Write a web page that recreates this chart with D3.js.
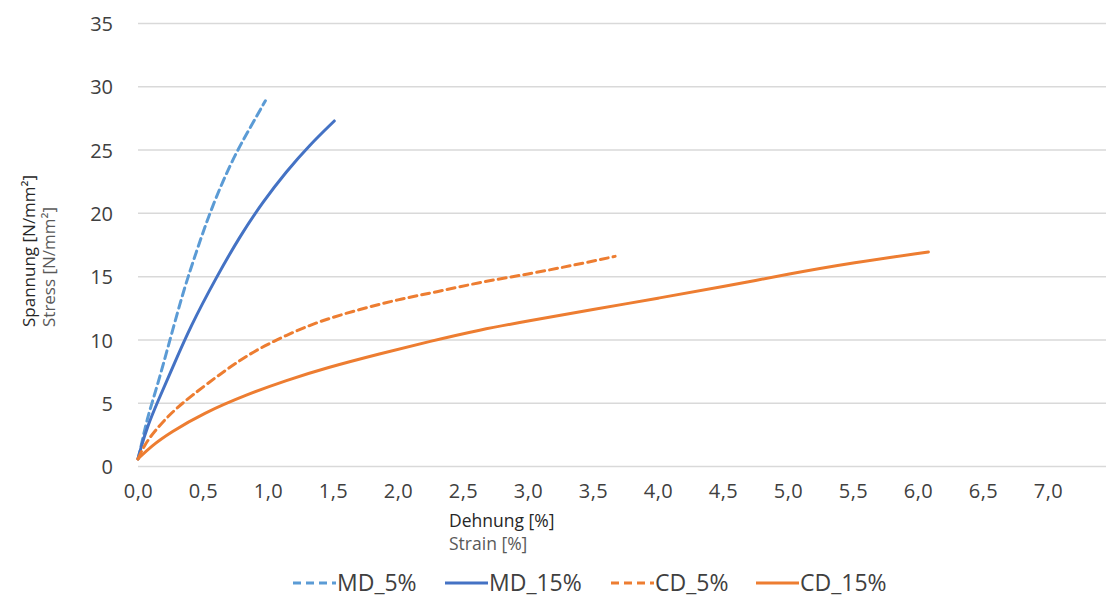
<!DOCTYPE html>
<html><head><meta charset="utf-8">
<script src="https://cdn.jsdelivr.net/npm/d3@7"></script>
<style>
body{margin:0;background:#fff;}
text{font-family:"Open Sans",sans-serif;}
</style></head>
<body><svg id="c" width="1106" height="597"></svg>
<script>
const xTicks = [0,0.5,1,1.5,2,2.5,3,3.5,4,4.5,5,5.5,6,6.5,7];
const yTicks = [0,5,10,15,20,25,30,35];
const seriesNames = ["MD_5%","MD_15%","CD_5%","CD_15%"];
const md5Strain  = [0,0.02,0.067,0.144,0.246,0.35,0.45,0.54,0.65,0.76,0.87,0.98];
const md5Stress  = [0.6,1.4,3.7,6.2,10.0,13.9,17.0,19.7,22.5,24.9,26.9,28.9];
const md15Strain = [0,0.02,0.07,0.15,0.27,0.40,0.605,0.79,0.96,1.14,1.32,1.51];
const md15Stress = [0.6,1.4,3.1,5.1,7.9,11.0,15.0,18.3,20.9,23.3,25.4,27.3];
const cd5Strain  = [0,0.05,0.12,0.25,0.4,0.656,0.887,1.144,1.4,1.7,2.0,2.3,2.65,3.0,3.35,3.67];
const cd5Stress  = [0.6,1.7,2.7,4.2,5.5,7.5,9.1,10.4,11.5,12.4,13.2,13.8,14.6,15.2,15.9,16.6];
const cd15Strain = [0,0.1,0.25,0.5,0.84,1.14,1.45,1.86,2.25,2.63,3.0,3.5,4.0,4.5,5.0,5.5,6.08];
const cd15Stress = [0.6,1.6,2.7,4.2,5.7,6.8,7.8,8.9,9.9,10.8,11.5,12.4,13.3,14.2,15.2,16.1,16.95];

const series = [
  {name:seriesNames[0], xs:md5Strain, ys:md5Stress, color:"#5B9BD5", dash:"8,5"},
  {name:seriesNames[1], xs:md15Strain, ys:md15Stress, color:"#4472C4", dash:null},
  {name:seriesNames[2], xs:cd5Strain, ys:cd5Stress, color:"#ED7D31", dash:"8,5"},
  {name:seriesNames[3], xs:cd15Strain, ys:cd15Stress, color:"#ED7D31", dash:null}
];

const svg = d3.select("#c");
const x = d3.scaleLinear().domain([0,7.5]).range([138,1113]);
const y = d3.scaleLinear().domain([0,35]).range([466.5,23.5]);
const fmt = d => d.toFixed(1).replace(".",",");

// gridlines
svg.append("g").selectAll("line").data(yTicks).join("line")
  .attr("x1",138).attr("x2",1106)
  .attr("y1",d=>y(d)).attr("y2",d=>y(d))
  .attr("stroke","#d9d9d9").attr("stroke-width",1.5);

// y axis labels
const yAxis = svg.append("g").attr("transform","translate(113,0)")
  .call(d3.axisLeft(y).tickValues(yTicks).tickSize(0).tickPadding(0).tickFormat(d=>d));
yAxis.select(".domain").remove();
yAxis.selectAll("text").attr("font-size",20).attr("fill","#404040").attr("font-family","Open Sans").attr("dy","0.36em");

// x axis labels
const xAxis = svg.append("g").attr("transform","translate(0,480)")
  .call(d3.axisBottom(x).tickValues(xTicks).tickSize(0).tickPadding(4).tickFormat(fmt));
xAxis.select(".domain").remove();
xAxis.selectAll("text").attr("font-size",20).attr("fill","#404040").attr("font-family","Open Sans").attr("letter-spacing","0.5px");

// lines
const line = d3.line().curve(d3.curveBasis);
series.forEach(s=>{
  const pts = s.xs.map((v,i)=>[x(v), y(s.ys[i])]);
  svg.append("path").attr("d",line(pts)).attr("fill","none")
    .attr("stroke",s.color).attr("stroke-width",3)
    .attr("stroke-dasharray",s.dash).attr("stroke-linecap","round").attr("stroke-linejoin","round");
});

// axis titles
svg.append("text").attr("transform","translate(35,327) rotate(-90)")
  .attr("font-size",17).attr("fill","#262626").text("Spannung [N/mm²]");
svg.append("text").attr("transform","translate(55,327) rotate(-90)")
  .attr("font-size",17).attr("fill","#595959").text("Stress [N/mm²]");
svg.append("text").attr("x",449).attr("y",527).attr("font-size",17.5).attr("fill","#262626").text("Dehnung [%]");
svg.append("text").attr("x",449).attr("y",550).attr("font-size",17.5).attr("fill","#595959").text("Strain [%]");

// legend
const legX = [293,445,611,756];
const lg = svg.append("g");
series.forEach((s,i)=>{
  lg.append("line").attr("x1",legX[i]).attr("x2",legX[i]+43).attr("y1",583).attr("y2",583)
    .attr("stroke",s.color).attr("stroke-width",3).attr("stroke-dasharray",s.dash);
  lg.append("text").attr("x",legX[i]+44).attr("y",591).attr("font-size",23).attr("fill","#404040").text(s.name);
});
</script></body></html>
